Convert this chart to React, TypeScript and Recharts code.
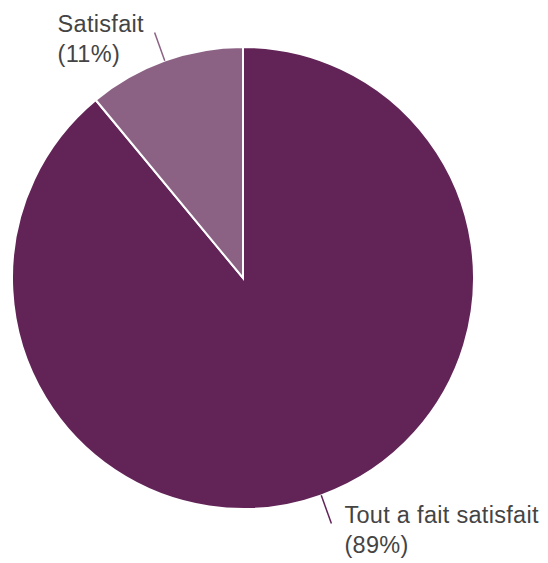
import React from "react";
import { PieChart, Pie, Cell } from "recharts";

const categories = ["Tout a fait satisfait", "Satisfait"];
const values = [89, 11];
const colors = ["#622457", "#8c6284"];

const data = categories.map((name, i) => ({ name, value: values[i] }));

const RAD = Math.PI / 180;

const renderLabel = (props: any) => {
  const { cx, cy, midAngle, outerRadius, index, percent } = props;
  const cos = Math.cos(-midAngle * RAD);
  const sin = Math.sin(-midAngle * RAD);
  const sx = cx + outerRadius * cos;
  const sy = cy + outerRadius * sin;
  const ex = cx + (outerRadius + 30) * cos;
  const ey = cy + (outerRadius + 30) * sin;
  const pct = `(${Math.round(percent * 100)}%)`;
  const isRight = cos >= 0;
  const tx = isRight ? ex + 13 : ex - 97;
  const ty = isRight ? ey - 1 : ey;
  return (
    <g>
      <line x1={sx} y1={sy} x2={ex} y2={ey} stroke={colors[index]} strokeWidth={1.5} />
      <text x={tx} y={ty} fill="#444444" fontSize={23.5} letterSpacing={0.3} fontFamily="'Liberation Sans', Arial, sans-serif" textAnchor="start">
        <tspan x={tx} y={ty}>{data[index].name}</tspan>
        <tspan x={tx} y={ty + 30}>{pct}</tspan>
      </text>
    </g>
  );
};

export default function App() {
  return (
    <div style={{ position: "absolute", left: 0, top: 0, width: 548, height: 563, background: "#fff" }}>
      <PieChart width={548} height={563} margin={{ top: 0, right: 0, bottom: 0, left: 0 }}>
        <Pie
          data={data}
          dataKey="value"
          nameKey="name"
          cx={243}
          cy={278}
          outerRadius={231}
          startAngle={90}
          endAngle={-270}
          stroke="#ffffff"
          strokeWidth={2}
          label={renderLabel}
          labelLine={false}
          isAnimationActive={false}
        >
          {data.map((d, i) => (
            <Cell key={d.name} fill={colors[i]} />
          ))}
        </Pie>
      </PieChart>
    </div>
  );
}
